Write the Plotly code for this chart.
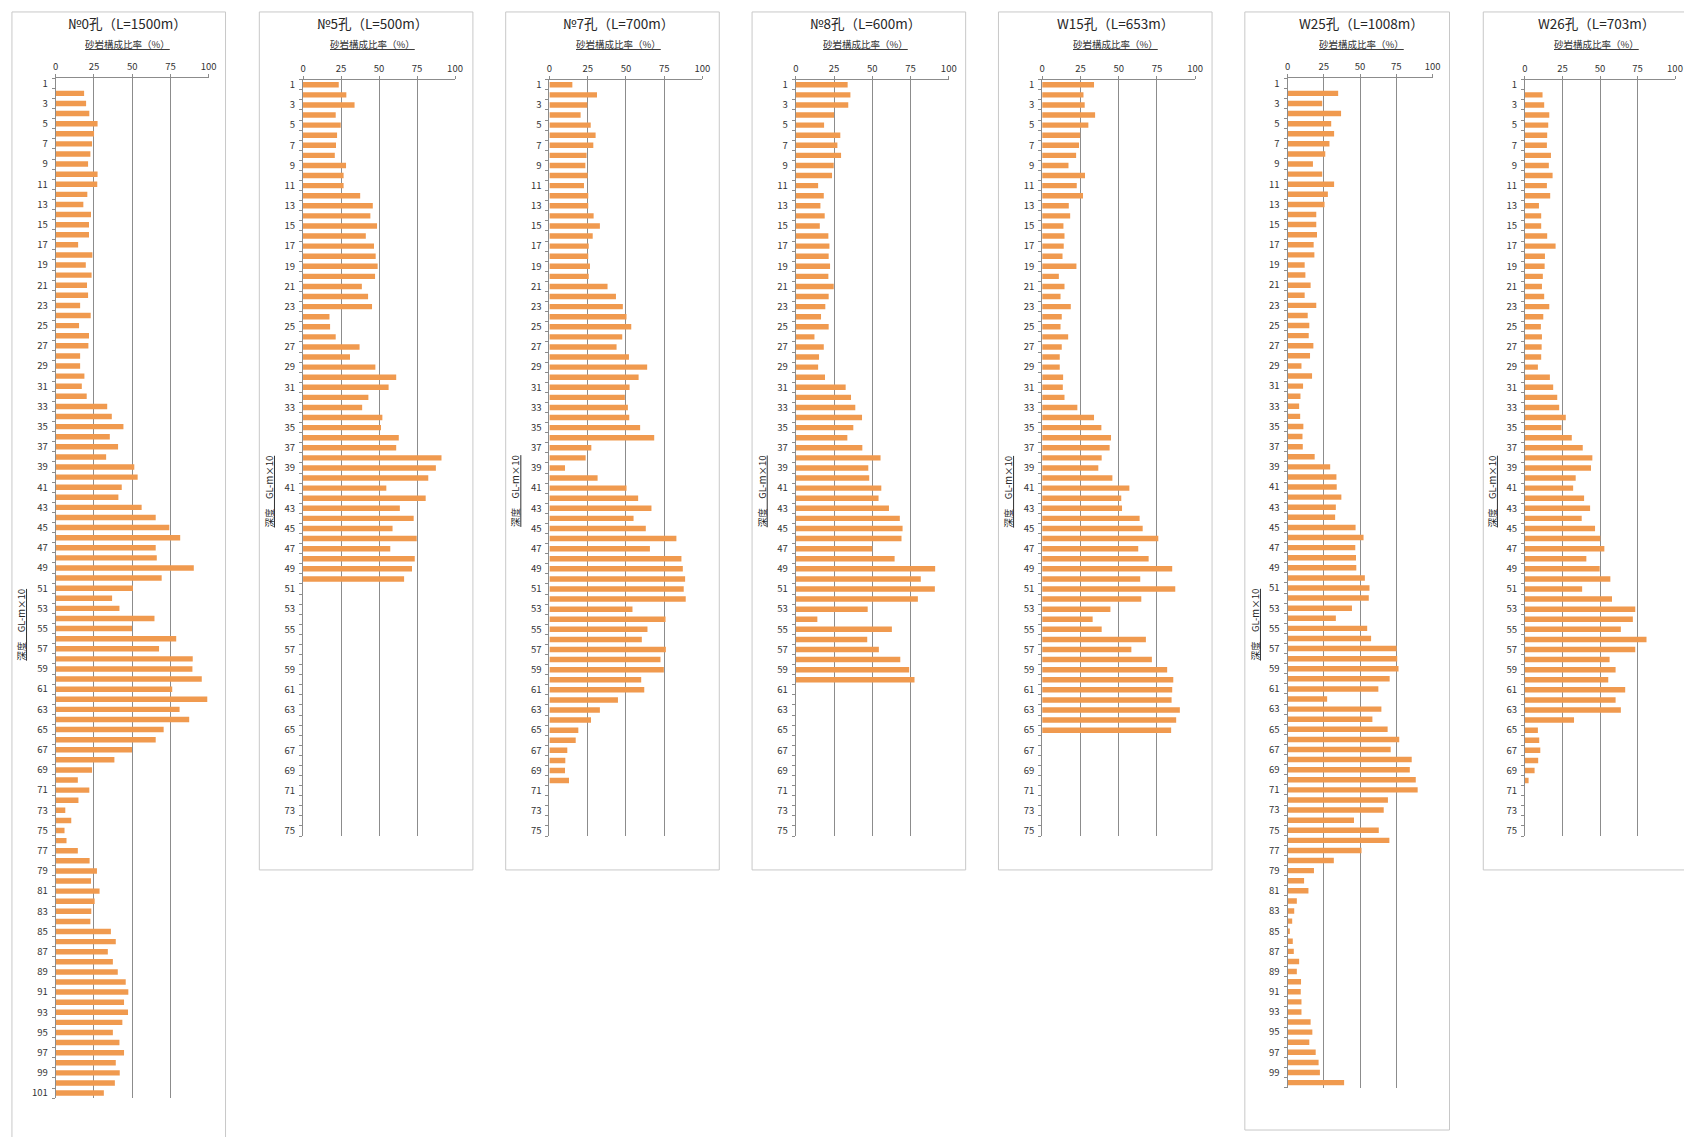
import plotly.graph_objects as go

# ---------------- data (sandstone ratio %, by depth GL-m x10) ----------------
no0_vals = [
    None, 18.6, 19.9, 22.0, 27.4, 25.1, 23.8, 22.7, 21.2, 27.4,
    27.2, 20.7, 18.1, 23.1, 21.8, 21.8, 14.7, 24.0, 19.7, 23.5,
    20.5, 21.2, 16.0, 22.9, 15.3, 21.8, 21.4, 16.0, 16.0, 18.8,
    17.1, 20.3, 33.7, 36.7, 44.3, 35.4, 40.8, 33.0, 51.4, 53.6,
    43.2, 41.0, 56.2, 65.4, 74.3, 81.4, 65.4, 66.1, 90.3, 69.3,
    50.5, 36.9, 41.7, 64.6, 49.9, 78.8, 67.6, 89.6, 89.4, 95.5,
    76.2, 99.1, 81.0, 87.3, 70.6, 65.4, 49.9, 38.4, 23.8, 14.5,
    22.0, 14.9, 6.3, 10.2, 5.8, 7.1, 14.5, 22.2, 27.0, 23.1,
    28.7, 25.5, 23.3, 22.7, 36.1, 39.3, 34.1, 37.4, 40.6, 45.8,
    47.5, 44.7, 47.3, 43.6, 37.4, 41.7, 44.7, 39.3, 41.9, 38.7,
    31.5,
]
no5_vals = [
    23.5, 28.5, 33.9, 21.5, 24.8, 22.4, 21.7, 20.9, 28.3, 26.7,
    26.7, 37.6, 45.9, 44.3, 48.7, 41.3, 46.7, 47.8, 49.1, 47.4,
    38.7, 42.8, 45.4, 17.4, 17.8, 21.5, 37.2, 30.9, 47.6, 61.3,
    56.3, 43.0, 38.9, 52.2, 51.3, 63.0, 61.3, 91.1, 87.4, 82.4,
    54.8, 80.7, 63.7, 72.8, 58.9, 74.8, 57.4, 73.5, 71.7, 66.5,
]
no7_vals = [
    15.0, 31.1, 24.8, 20.4, 27.0, 30.2, 28.7, 24.3, 23.5, 25.0,
    22.6, 25.4, 25.4, 28.9, 33.0, 28.3, 25.7, 25.4, 26.5, 25.7,
    38.0, 43.5, 48.0, 50.4, 53.5, 47.6, 43.9, 52.0, 63.9, 58.3,
    52.4, 49.3, 51.3, 52.2, 59.3, 68.5, 27.4, 23.7, 10.2, 31.5,
    50.4, 58.0, 66.7, 55.0, 63.0, 83.0, 65.7, 86.3, 87.2, 88.7,
    87.8, 89.1, 54.3, 75.9, 64.1, 60.4, 76.1, 72.6, 74.8, 60.0,
    62.0, 44.8, 33.0, 27.2, 18.9, 17.2, 11.7, 10.4, 10.2, 12.8,
]
no8_vals = [
    33.9, 35.7, 34.3, 25.0, 18.5, 29.1, 27.2, 29.6, 24.8, 23.7,
    14.6, 18.3, 16.1, 18.9, 15.7, 21.3, 22.0, 21.5, 22.4, 21.3,
    24.8, 21.5, 19.3, 16.5, 21.5, 12.2, 18.3, 15.2, 14.6, 19.1,
    32.6, 36.1, 38.9, 43.3, 37.6, 33.7, 43.5, 55.4, 47.4, 48.0,
    55.9, 54.1, 60.9, 68.0, 69.8, 69.1, 50.0, 64.6, 91.1, 81.7,
    90.9, 79.8, 47.0, 14.1, 62.8, 46.7, 54.3, 68.3, 74.1, 77.6,
]
w15_vals = [
    33.9, 27.0, 27.8, 34.6, 30.2, 24.8, 24.1, 22.2, 17.2, 28.0,
    22.6, 26.7, 17.4, 18.3, 13.9, 14.6, 14.1, 13.3, 22.4, 10.9,
    14.6, 12.0, 18.7, 12.8, 12.0, 17.0, 12.8, 11.5, 11.5, 13.7,
    13.5, 14.6, 23.0, 33.9, 38.7, 45.0, 44.1, 38.9, 36.7, 45.9,
    57.0, 51.7, 52.2, 63.7, 65.7, 75.9, 62.8, 69.6, 85.0, 64.1,
    87.0, 64.8, 44.6, 33.0, 38.9, 67.8, 58.3, 71.7, 81.7, 85.7,
    85.0, 84.6, 90.0, 87.6, 84.3,
]
w25_vals = [
    None, 34.9, 23.9, 36.9, 30.1, 32.1, 28.9, 26.0, 17.5, 23.9,
    32.1, 27.8, 25.5, 19.8, 19.8, 20.3, 18.0, 18.5, 11.8, 12.3,
    15.9, 11.8, 19.8, 13.9, 15.0, 14.6, 17.8, 15.5, 9.6, 16.9,
    10.7, 8.9, 8.0, 8.7, 10.9, 10.3, 10.5, 18.7, 29.4, 33.7,
    33.9, 37.1, 33.3, 32.8, 46.9, 52.4, 46.7, 47.2, 47.4, 53.3,
    56.5, 56.0, 44.4, 33.3, 54.9, 57.6, 75.2, 75.6, 76.5, 70.4,
    62.6, 27.3, 64.7, 58.5, 69.0, 77.0, 71.1, 85.6, 84.3, 88.4,
    89.7, 69.2, 66.3, 45.8, 62.9, 70.2, 51.0, 31.9, 18.2, 11.4,
    14.4, 6.4, 4.6, 3.2, 1.6, 3.6, 4.3, 8.0, 6.4, 9.3,
    9.1, 9.6, 9.6, 15.9, 17.1, 15.0, 19.4, 21.4, 22.3, 39.0,
]
w26_vals = [
    None, 11.7, 12.8, 16.2, 15.5, 14.8, 14.6, 17.3, 15.9, 18.4,
    14.6, 16.8, 9.3, 10.8, 10.8, 14.8, 20.4, 13.3, 13.1, 11.9,
    11.3, 12.8, 16.2, 12.2, 10.6, 11.3, 11.1, 10.8, 8.6, 16.6,
    18.8, 21.5, 22.8, 27.2, 24.3, 31.2, 38.5, 44.9, 44.0, 33.8,
    32.1, 39.4, 43.4, 37.8, 46.7, 50.2, 52.9, 40.9, 49.8, 56.9,
    38.1, 58.0, 73.5, 71.9, 63.9, 81.0, 73.5, 56.4, 60.4, 55.5,
    66.8, 60.4, 63.9, 32.7, 8.6, 9.5, 10.2, 8.8, 6.4, 2.4,
]

titles = ["№0孔（L=1500m）", "№5孔（L=500m）", "№7孔（L=700m）", "№8孔（L=600m）",
          "W15孔（L=653m）", "W25孔（L=1008m）", "W26孔（L=703m）"]
depth_counts = [101, 75, 75, 75, 75, 100, 75]
x_ticks = [0, 25, 50, 75, 100]
x_title = "砂岩構成比率（%）"
y_title = "深度　GL-m×10"

series = [no0_vals, no5_vals, no7_vals, no8_vals, w15_vals, w25_vals, w26_vals]

# ---------------- layout geometry (pixels) ----------------
W, H = 1684, 1137
geom = [
    dict(box=(9, 224, 9, 1160), px=(53, 207), py=(75.5, 1099), tc=125, ytx=18, yty=624),
    dict(box=(258, 473, 9, 870), px=(302, 455), py=(77, 836), tc=372, ytx=268, yty=490),
    dict(box=(506, 721, 9, 870), px=(550, 704), py=(77, 836), tc=620, ytx=516, yty=490),
    dict(box=(754, 969, 9, 870), px=(798, 952), py=(77, 836), tc=868, ytx=764, yty=490),
    dict(box=(1002, 1217, 9, 870), px=(1046, 1200), py=(77, 836), tc=1120, ytx=1012, yty=490),
    dict(box=(1250, 1456, 9, 1131), px=(1293, 1439), py=(75.5, 1088.5), tc=1367, ytx=1260, yty=624),
    dict(box=(1490, 1720, 9, 870), px=(1532, 1683), py=(77, 836), tc=1604, ytx=1499, yty=490),
]

FONT = "Noto Sans CJK JP, Noto Sans, sans-serif"
BAR = "#F09A4F"
GRID = "#8c8c8c"

def fx(p):
    return p / W

def fy(p):
    return 1 - p / H

fig = go.Figure()
layout = dict(width=W, height=H, margin=dict(l=0, r=0, t=0, b=0),
              paper_bgcolor="white", plot_bgcolor="white", showlegend=False,
              bargap=0.46, font=dict(family=FONT, color="#333333"))
shapes, annotations = [], []

for i, (vals, n, title, g) in enumerate(zip(series, depth_counts, titles, geom), start=1):
    cats = list(range(1, len(vals) + 1))
    xa, ya = f"x{i}" if i > 1 else "x", f"y{i}" if i > 1 else "y"
    fig.add_trace(go.Bar(x=vals, y=cats, orientation="h", xaxis=xa, yaxis=ya,
                         marker=dict(color=BAR, line=dict(width=0)),
                         hoverinfo="x+y"))
    kx = "xaxis" if i == 1 else f"xaxis{i}"
    ky = "yaxis" if i == 1 else f"yaxis{i}"
    layout[kx] = dict(domain=[fx(g["px"][0]), fx(g["px"][1])], anchor=ya, side="top",
                      range=[0, 100], tickmode="array", tickvals=x_ticks,
                      ticktext=[str(t) for t in x_ticks],
                      showgrid=True, gridcolor=GRID, gridwidth=1, zeroline=False,
                      showline=True, linecolor=GRID, linewidth=1,
                      ticks="outside", ticklen=3, tickcolor=GRID,
                      tickfont=dict(size=9.5, color="#333333", family=FONT),
                      fixedrange=True)
    odd = list(range(1, n + 1, 2))
    layout[ky] = dict(domain=[fy(g["py"][1]), fy(g["py"][0])], anchor=xa,
                      range=[n + 0.5, 0.5], tickmode="array", tickvals=odd,
                      ticktext=[str(v) for v in odd],
                      ticks="outside", ticklen=5, tickcolor="rgba(0,0,0,0)",
                      minor=dict(tick0=0.5, dtick=1, ticks="outside", ticklen=3,
                                 tickcolor=GRID, showgrid=False),
                      showgrid=False, zeroline=False, showline=True,
                      linecolor=GRID, linewidth=1,
                      tickfont=dict(size=9.5, color="#333333", family=FONT),
                      fixedrange=True)
    b = g["box"]
    shapes.append(dict(type="rect", xref="paper", yref="paper",
                       x0=fx(b[0]), x1=fx(b[1]), y0=fy(b[3]), y1=fy(b[2]),
                       line=dict(color="#c8c8c8", width=1), fillcolor="rgba(0,0,0,0)",
                       layer="below"))
    annotations.append(dict(text=title, x=fx(g["tc"]), y=fy(20), xref="paper", yref="paper",
                            showarrow=False, xanchor="center", yanchor="middle",
                            font=dict(size=13.5, color="#262626", family=FONT)))
    annotations.append(dict(text=f"<u>{x_title}</u>", x=fx(g["tc"]), y=fy(41),
                            xref="paper", yref="paper", showarrow=False,
                            xanchor="center", yanchor="middle",
                            font=dict(size=9.5, color="#333333", family=FONT)))
    annotations.append(dict(text=f"<u>{y_title}</u>", x=fx(g["ytx"]), y=fy(g["yty"]),
                            xref="paper", yref="paper", showarrow=False, textangle=-90,
                            xanchor="center", yanchor="middle",
                            font=dict(size=9.5, color="#262626", family=FONT)))

layout["shapes"] = shapes
layout["annotations"] = annotations
fig.update_layout(**layout)
fig.write_html("out.html", config={"displayModeBar": False},
               post_script="document.body.style.margin='0';document.body.style.overflow='hidden';")
